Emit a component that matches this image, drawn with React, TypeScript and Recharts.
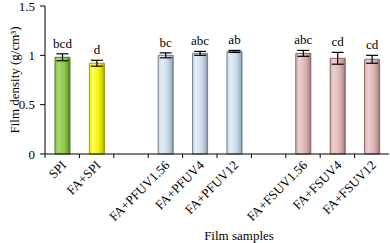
import React from "react";
import { BarChart, Bar, XAxis, YAxis, ErrorBar, Cell, LabelList } from "recharts";

// ── Data ───────────────────────────────────────────────────────────────────

const categories = [
  "SPI",
  "FA+SPI",
  "gap1",
  "FA+PFUV1.56",
  "FA+PFUV4",
  "FA+PFUV12",
  "gap2",
  "FA+FSUV1.56",
  "FA+FSUV4",
  "FA+FSUV12",
];
const density = [0.98, 0.92, null, 1.0, 1.02, 1.04, null, 1.02, 0.97, 0.96];
const errors = [0.035, 0.03, null, 0.025, 0.02, 0.01, null, 0.03, 0.06, 0.04];
const letters = ["bcd", "d", "", "bc", "abc", "ab", "", "abc", "cd", "cd"];
const groups = ["green", "yellow", "", "blue", "blue", "blue", "", "pink", "pink", "pink"];
const yTicks = [0, 0.5, 1, 1.5];

const data = categories.map((name, i) => ({
  idx: i,
  name,
  density: density[i],
  err: errors[i],
  sig: letters[i],
  group: groups[i],
}));

// ── Bar colours (gradient + edge) ──────────────────────────────────────────

const PALETTE: Record<string, { light: string; mid: string; dark: string; edge: string }> = {
  green: { light: "#a8d870", mid: "#8cc84b", dark: "#5f9a2c", edge: "#4f7a28" },
  yellow: { light: "#ffff60", mid: "#f0f000", dark: "#c8c800", edge: "#9a9a10" },
  blue: { light: "#e6eef6", mid: "#c8d8e8", dark: "#9fb2c4", edge: "#6e7e8e" },
  pink: { light: "#ecd0d0", mid: "#d9b2b2", dark: "#b88e8e", edge: "#8a6464" },
};

const FONT = "Liberation Serif";
const TEXT = { fontFamily: FONT, fontSize: 13, fill: "#000" };

function CategoryTick(props: any) {
  const { x, y, payload } = props;
  const label = String(payload.value).startsWith("gap") ? "" : payload.value;
  const band = 34.4;
  return (
    <g>
      <line x1={x - band / 2} y1={y - 8} x2={x - band / 2} y2={y - 4} stroke="#000" />
      {label && (
        <text
          x={x + 5}
          y={y + 4}
          textAnchor="end"
          transform={`rotate(-45, ${x + 5}, ${y + 4})`}
          style={TEXT}
        >
          {label}
        </text>
      )}
    </g>
  );
}

function SigLabel(props: any) {
  const { x, y, width, height, value } = props;
  const row = data[value];
  if (!row || row.density == null || !row.sig) return null;
  const pxPerUnit = height / row.density;
  return (
    <text
      x={x + width / 2}
      y={y - (row.err ?? 0) * pxPerUnit - 6}
      textAnchor="middle"
      style={TEXT}
    >
      {row.sig}
    </text>
  );
}

export default function App() {
  return (
    <div style={{ width: 390, height: 243, background: "#fff" }}>
      <style>{"body{margin:0}"}</style>
      <BarChart
        width={390}
        height={243}
        data={data}
        margin={{ top: 6, right: 1, left: 0, bottom: 0 }}
        barCategoryGap={0}
      >
        <defs>
          {Object.entries(PALETTE).map(([k, c]) => (
            <linearGradient key={k} id={`grad-${k}`} x1="0" y1="0" x2="1" y2="0">
              <stop offset="0%" stopColor={c.mid} />
              <stop offset="25%" stopColor={c.light} />
              <stop offset="65%" stopColor={c.mid} />
              <stop offset="90%" stopColor={c.dark} />
              <stop offset="100%" stopColor={c.edge} />
            </linearGradient>
          ))}
        </defs>
        <XAxis
          dataKey="name"
          interval={0}
          height={89}
          axisLine={{ stroke: "#000" }}
          tickLine={false}
          tick={<CategoryTick />}
          label={{
            value: "Film samples",
            position: "insideBottom",
            offset: 3,
            dx: 22,
            style: TEXT,
          }}
        />
        <YAxis
          width={45}
          domain={[0, 1.5]}
          ticks={yTicks}
          interval={0}
          axisLine={{ stroke: "#000" }}
          tickLine={{ stroke: "#000" }}
          tickSize={5}
          tickMargin={5}
          tick={TEXT}
          label={{
            value: "Film density (g/cm³)",
            angle: -90,
            position: "insideLeft",
            offset: 14,
            style: { ...TEXT, textAnchor: "middle" },
          }}
        />
        <Bar dataKey="density" barSize={15} isAnimationActive={false}>
          {data.map((d, i) => (
            <Cell
              key={i}
              fill={d.group ? `url(#grad-${d.group})` : "none"}
              stroke={d.group ? PALETTE[d.group].edge : "none"}
              strokeWidth={1}
            />
          ))}
          <ErrorBar dataKey="err" width={6} stroke="#000" strokeWidth={1.2} direction="y" />
          <LabelList dataKey="idx" content={<SigLabel />} />
        </Bar>
      </BarChart>
    </div>
  );
}
